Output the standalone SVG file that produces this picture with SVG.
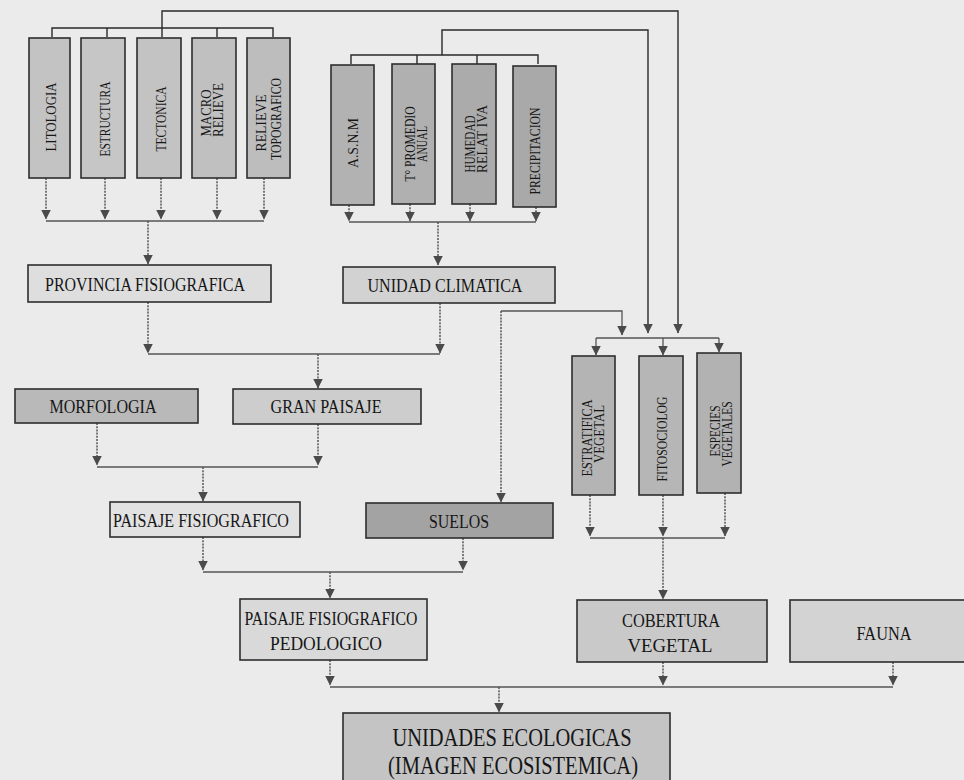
<svg xmlns="http://www.w3.org/2000/svg" width="964" height="780" viewBox="0 0 964 780">
<defs>
<marker id="ah" viewBox="0 0 10 10" refX="9.5" refY="5" markerWidth="10" markerHeight="10" markerUnits="userSpaceOnUse" orient="auto">
<path d="M0,0 L10,5 L0,10 z" fill="#4a4a4a"/>
</marker>
<style>
.bx{stroke:#2e2e2e;stroke-width:1.6}
.t{font-family:"Liberation Serif","Times New Roman",serif;fill:#161616;font-size:19px}
.tv{font-family:"Liberation Serif","Times New Roman",serif;fill:#161616;font-size:14.5px;text-anchor:middle}
.tb{font-family:"Liberation Serif","Times New Roman",serif;fill:#161616;font-size:26px;text-anchor:middle}
.c{text-anchor:middle}
.k{fill:none;stroke:#2a2a2a;stroke-width:1.4}
.s{fill:none;stroke:#555;stroke-width:1.3}
.d{fill:none;stroke:#555;stroke-width:1.5;stroke-dasharray:2 1.2}
</style>
</defs>
<rect x="0" y="0" width="964" height="780" fill="#ebebeb"/>

<g id="connectors">
<path class="k" d="M162,37 V11 H678 V333" marker-end="url(#ah)"/>
<path class="k" d="M52,37 V28 H273 V37 M107,28 V37 M217,28 V37"/>
<path class="k" d="M442,55 V30 H648 V333" marker-end="url(#ah)"/>
<path class="k" d="M351,64 V55 H538 V64 M417,55 V64 M477,55 V64"/>
<path class="d" d="M46,178 V219" marker-end="url(#ah)"/>
<path class="d" d="M105,178 V219" marker-end="url(#ah)"/>
<path class="d" d="M161,178 V219" marker-end="url(#ah)"/>
<path class="d" d="M217,178 V219" marker-end="url(#ah)"/>
<path class="d" d="M264,178 V219" marker-end="url(#ah)"/>
<path class="s" d="M46,221 H264"/>
<path class="d" d="M148,221 V264" marker-end="url(#ah)"/>
<path class="d" d="M349,205 V221" marker-end="url(#ah)"/>
<path class="d" d="M410,204 V221" marker-end="url(#ah)"/>
<path class="d" d="M470,204 V221" marker-end="url(#ah)"/>
<path class="d" d="M536,207 V221" marker-end="url(#ah)"/>
<path class="s" d="M349,222 H536"/>
<path class="d" d="M438,222 V265" marker-end="url(#ah)"/>
<path class="d" d="M148,302 V353" marker-end="url(#ah)"/>
<path class="d" d="M440,303 V353" marker-end="url(#ah)"/>
<path class="s" d="M148,354 H440"/>
<path class="d" d="M318,354 V388" marker-end="url(#ah)"/>
<path class="s" d="M501,311 H622 V335" marker-end="url(#ah)"/>
<path class="d" d="M501,311 V502" marker-end="url(#ah)"/>
<path class="s" d="M596,338 H719"/>
<path class="s" d="M596,338 V355" marker-end="url(#ah)"/>
<path class="s" d="M663,338 V355" marker-end="url(#ah)"/>
<path class="s" d="M719,338 V352" marker-end="url(#ah)"/>
<path class="d" d="M590,495 V536" marker-end="url(#ah)"/>
<path class="d" d="M663,495 V536" marker-end="url(#ah)"/>
<path class="d" d="M725,493 V536" marker-end="url(#ah)"/>
<path class="s" d="M590,538 H725"/>
<path class="d" d="M663,538 V599" marker-end="url(#ah)"/>
<path class="d" d="M97,423 V465" marker-end="url(#ah)"/>
<path class="d" d="M318,424 V465" marker-end="url(#ah)"/>
<path class="s" d="M97,467 H318"/>
<path class="d" d="M203,467 V501" marker-end="url(#ah)"/>
<path class="d" d="M203,537 V570" marker-end="url(#ah)"/>
<path class="d" d="M463,538 V570" marker-end="url(#ah)"/>
<path class="s" d="M203,572 H463"/>
<path class="d" d="M330,572 V598" marker-end="url(#ah)"/>
<path class="d" d="M330,660 V685" marker-end="url(#ah)"/>
<path class="d" d="M663,662 V685" marker-end="url(#ah)"/>
<path class="d" d="M893,662 V685" marker-end="url(#ah)"/>
<path class="s" d="M330,687 H893"/>
<path class="d" d="M499,687 V712" marker-end="url(#ah)"/>
</g>

<g id="litologia"><rect class="bx" x="29" y="38" width="41" height="140" fill="#c3c3c3"/>
<text class="tv" transform="translate(55.5,117) rotate(-90)" textLength="69" lengthAdjust="spacingAndGlyphs">LITOLOGIA</text></g>
<g id="estructura"><rect class="bx" x="81" y="38" width="44" height="140" fill="#c6c6c6"/>
<text class="tv" transform="translate(109.5,119) rotate(-90)" textLength="75" lengthAdjust="spacingAndGlyphs">ESTRUCTURA</text></g>
<g id="tectonica"><rect class="bx" x="137" y="38" width="44" height="140" fill="#c3c3c3"/>
<text class="tv" transform="translate(165.5,119) rotate(-90)" textLength="65" lengthAdjust="spacingAndGlyphs">TECTONICA</text></g>
<g id="macro-relieve"><rect class="bx" x="192" y="38" width="44" height="140" fill="#c0c0c0"/>
<text class="tv" transform="translate(210.5,113) rotate(-90)" textLength="47" lengthAdjust="spacingAndGlyphs">MACRO</text>
<text class="tv" transform="translate(222.5,110) rotate(-90)" textLength="54" lengthAdjust="spacingAndGlyphs">RELIEVE</text></g>
<g id="relieve-topografico"><rect class="bx" x="247" y="38" width="43" height="140" fill="#bdbdbd"/>
<text class="tv" transform="translate(265.5,123) rotate(-90)" textLength="57" lengthAdjust="spacingAndGlyphs">RELIEVE</text>
<text class="tv" transform="translate(280.5,119) rotate(-90)" textLength="82" lengthAdjust="spacingAndGlyphs">TOPOGRAFICO</text></g>

<g id="asnm"><rect class="bx" x="331" y="65" width="43" height="140" fill="#b2b2b2"/>
<text class="tv" transform="translate(357.5,143) rotate(-90)" textLength="50" lengthAdjust="spacingAndGlyphs">A.S.N.M</text></g>
<g id="t-promedio"><rect class="bx" x="392" y="64" width="43" height="140" fill="#b0b0b0"/>
<text class="tv" transform="translate(414.5,144) rotate(-90)" textLength="75" lengthAdjust="spacingAndGlyphs">T° PROMEDIO</text>
<text class="tv" transform="translate(426.5,144) rotate(-90)" textLength="36" lengthAdjust="spacingAndGlyphs">ANUAL</text></g>
<g id="humedad"><rect class="bx" x="452" y="64" width="44" height="140" fill="#ababab"/>
<text class="tv" transform="translate(474.5,144) rotate(-90)" textLength="57" lengthAdjust="spacingAndGlyphs">HUMEDAD</text>
<text class="tv" transform="translate(486.5,139) rotate(-90)" textLength="68" lengthAdjust="spacingAndGlyphs">RELAT IVA</text></g>
<g id="precipitacion"><rect class="bx" x="513" y="66" width="43" height="141" fill="#a9a9a9"/>
<text class="tv" transform="translate(539.5,151) rotate(-90)" textLength="87" lengthAdjust="spacingAndGlyphs">PRECIPITACION</text></g>

<g id="provincia"><rect class="bx" x="28" y="265" width="243" height="37" fill="#dedede"/>
<text class="t c" x="145" y="291" textLength="200" lengthAdjust="spacingAndGlyphs">PROVINCIA FISIOGRAFICA</text></g>
<g id="unidad-climatica"><rect class="bx" x="343" y="267" width="212" height="36" fill="#d2d2d2"/>
<text class="t c" x="445" y="291.5" textLength="155" lengthAdjust="spacingAndGlyphs">UNIDAD CLIMATICA</text></g>

<g id="morfologia"><rect class="bx" x="15" y="389" width="183" height="34" fill="#b9b9b9"/>
<text class="t c" x="103" y="412.5" textLength="107" lengthAdjust="spacingAndGlyphs">MORFOLOGIA</text></g>
<g id="gran-paisaje"><rect class="bx" x="233" y="389" width="188" height="35" fill="#cdcdcd"/>
<text class="t c" x="326" y="412.5" textLength="111" lengthAdjust="spacingAndGlyphs">GRAN PAISAJE</text></g>

<g id="estratifica"><rect class="bx" x="572" y="356" width="43" height="139" fill="#b4b4b4"/>
<text class="tv" transform="translate(591.5,438) rotate(-90)" textLength="77" lengthAdjust="spacingAndGlyphs">ESTRATIFICA</text>
<text class="tv" transform="translate(603.5,434) rotate(-90)" textLength="58" lengthAdjust="spacingAndGlyphs">VEGETAL</text></g>
<g id="fitosociolog"><rect class="bx" x="639" y="356" width="44" height="139" fill="#b6b6b6"/>
<text class="tv" transform="translate(666.5,439) rotate(-90)" textLength="85" lengthAdjust="spacingAndGlyphs">FITOSOCIOLOG</text></g>
<g id="especies"><rect class="bx" x="697" y="353" width="44" height="140" fill="#b2b2b2"/>
<text class="tv" transform="translate(719.5,431) rotate(-90)" textLength="51" lengthAdjust="spacingAndGlyphs">ESPECIES</text>
<text class="tv" transform="translate(731.5,434) rotate(-90)" textLength="65" lengthAdjust="spacingAndGlyphs">VEGETALES</text></g>

<g id="paisaje-fisiografico"><rect class="bx" x="110" y="502" width="190" height="35" fill="#e2e2e2"/>
<text class="t c" x="201" y="526.5" textLength="176" lengthAdjust="spacingAndGlyphs">PAISAJE FISIOGRAFICO</text></g>
<g id="suelos"><rect class="bx" x="366" y="503" width="187" height="35" fill="#a3a3a3"/>
<text class="t c" x="459" y="527.5" textLength="60" lengthAdjust="spacingAndGlyphs">SUELOS</text></g>

<g id="pedologico"><rect class="bx" x="240" y="599" width="187" height="61" fill="#d9d9d9"/>
<text class="t c" x="331" y="624.5" textLength="173" lengthAdjust="spacingAndGlyphs">PAISAJE FISIOGRAFICO</text>
<text class="t c" x="326" y="649.5" textLength="112" lengthAdjust="spacingAndGlyphs">PEDOLOGICO</text></g>
<g id="cobertura"><rect class="bx" x="577" y="600" width="190" height="62" fill="#c9c9c9"/>
<text class="t c" x="671" y="626.5" textLength="98" lengthAdjust="spacingAndGlyphs">COBERTURA</text>
<text class="t c" x="670" y="651.5" textLength="85" lengthAdjust="spacingAndGlyphs">VEGETAL</text></g>
<g id="fauna"><rect class="bx" x="790" y="600" width="190" height="62" fill="#d3d3d3"/>
<text class="t c" x="884" y="639.5" textLength="55" lengthAdjust="spacingAndGlyphs">FAUNA</text></g>

<g id="unidades-ecologicas"><rect class="bx" x="343" y="713" width="327" height="80" fill="#c4c4c4"/>
<text class="tb" x="512" y="746" textLength="239" lengthAdjust="spacingAndGlyphs">UNIDADES ECOLOGICAS</text>
<text class="tb" x="513" y="774" textLength="250" lengthAdjust="spacingAndGlyphs">(IMAGEN ECOSISTEMICA)</text></g>
</svg>
